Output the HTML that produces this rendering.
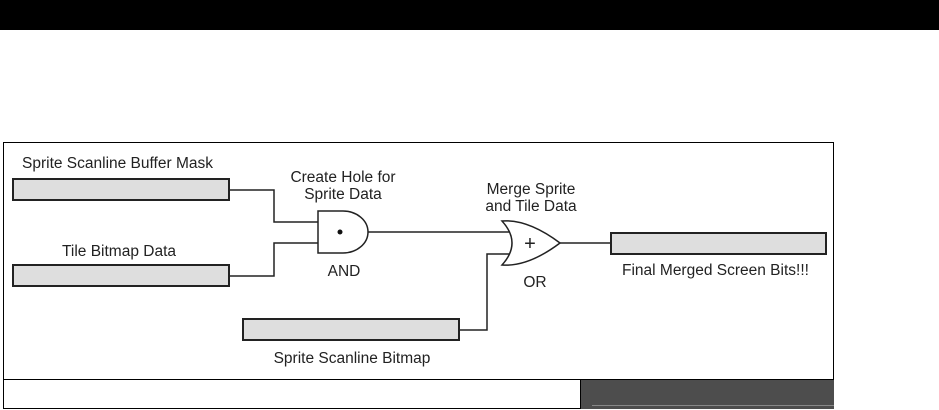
<!DOCTYPE html>
<html><head><style>body{margin:0;background:#fff}svg{display:block}text{font-family:"Liberation Sans",sans-serif;font-size:15.5px;fill:#222}</style></head><body>
<svg width="939" height="410" viewBox="0 0 939 410">
<rect x="0" y="0" width="939" height="30" fill="#000"/>
<rect x="3.5" y="142.5" width="830" height="266" fill="#fff" stroke="#000" stroke-width="1"/>
<line x1="3" y1="379.5" x2="834" y2="379.5" stroke="#000"/>
<rect x="580" y="380" width="254" height="29" fill="#4d4d4d"/>
<line x1="592" y1="405.5" x2="834" y2="405.5" stroke="#888"/>
<line x1="580.5" y1="380" x2="580.5" y2="409" stroke="#000"/>
<g fill="#dedede" stroke="#222" stroke-width="2">
<rect x="13" y="179" width="216" height="21"/>
<rect x="13" y="265" width="216" height="21"/>
<rect x="243" y="319" width="216" height="21"/>
<rect x="611" y="233" width="215" height="21"/>
</g>
<g fill="none" stroke="#222" stroke-width="1.5">
<polyline points="229,190 274,190 274,222 318,222"/>
<polyline points="229,276 274,276 274,243 318,243"/>
<line x1="368" y1="232" x2="512" y2="232"/>
<polyline points="459,330 487,330 487,254 510,254"/>
<line x1="560" y1="243" x2="611" y2="243"/>
</g>
<path d="M318,211 H343 A25,21 0 0 1 343,253 H318 Z" fill="#fff" stroke="#222" stroke-width="1.5"/>
<circle cx="340" cy="232" r="2.5" fill="#111"/>
<path d="M502,221 Q528,219 560,243 Q528,267 502,265 Q522,243 502,221 Z" fill="#fff" stroke="#222" stroke-width="1.5"/>
<text x="530" y="250" text-anchor="middle" style="font-size:20px">+</text>
<text x="22" y="168">Sprite Scanline Buffer Mask</text>
<text x="343" y="182" text-anchor="middle">Create Hole for</text>
<text x="343" y="199" text-anchor="middle">Sprite Data</text>
<text x="62" y="256">Tile Bitmap Data</text>
<text x="344" y="276" text-anchor="middle">AND</text>
<text x="531" y="194" text-anchor="middle">Merge Sprite</text>
<text x="531" y="211" text-anchor="middle">and Tile Data</text>
<text x="535" y="287" text-anchor="middle">OR</text>
<text x="622" y="275">Final Merged Screen Bits!!!</text>
<text x="352" y="363" text-anchor="middle">Sprite Scanline Bitmap</text>
</svg>
</body></html>
